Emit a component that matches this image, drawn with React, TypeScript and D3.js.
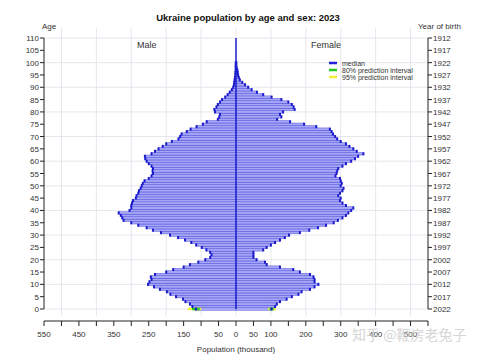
import React from "react";
import * as d3 from "d3";

const ages = d3.range(0, 101);
const male = [
  115, 125, 132, 145, 152, 172, 188, 198, 218, 235,
  252, 248, 242, 244, 232, 200, 180, 150, 132, 108,
  88, 74, 70, 74, 85, 98, 114, 128, 146, 166,
  189, 215, 238, 256, 280, 300, 322, 326, 330, 336,
  305, 300, 300, 298, 295, 287, 285, 280, 278, 273,
  270, 267, 262, 250, 242, 238, 239, 238, 242, 250,
  256, 260, 261, 242, 232, 222, 210, 200, 184, 165,
  160, 156, 141, 130, 113, 95, 84, 52, 48, 46,
  60, 62, 56, 52, 46, 40, 31, 24, 18, 12,
  8, 6, 5, 4, 3, 2, 2, 1, 1, 1, 0.5,
];
const female = [
  102, 112, 117, 126, 145, 160, 179, 188, 212, 225,
  236, 225, 225, 222, 212, 183, 164, 126, 88, 83,
  59, 50, 50, 50, 78, 88, 100, 112, 126, 140,
  152, 183, 210, 235, 258, 280, 292, 305, 315, 322,
  330, 336, 315, 305, 298, 300, 293, 298, 305, 308,
  300, 303, 300, 298, 285, 288, 290, 293, 305, 315,
  330, 341, 350, 365, 346, 336, 325, 315, 300, 290,
  284, 278, 274, 269, 230, 195, 155, 118, 130, 126,
  135, 168, 165, 160, 150, 130, 102, 78, 60, 45,
  35, 26, 18, 11, 8, 6, 5, 4, 2, 1, 1,
];
// prediction intervals at age 0 (male, female): [lo95, lo80, hi80, hi95]
const maleInterval0 = [100, 104, 126, 138];
const femaleInterval0 = [92, 96, 108, 114];

const leftXLabels = [550, 450, 350, 250, 150, 50, 0];
const rightXLabels = [50, 100, 200, 300, 400, 500];
const ageTicks = d3.range(0, 111, 5);
const legendItems = [
  { label: "median", color: "#2222dd" },
  { label: "80% prediction interval", color: "#22cc22" },
  { label: "95% prediction interval", color: "#f2ef3a" },
];

const title = "Ukraine population by age and sex: 2023";

export default function App() {
  const W = 479, H = 357;
  const x = d3.scaleLinear().domain([-550, 550]).range([44, 428]);
  const y = d3.scaleLinear().domain([0, 110]).range([309, 38]);
  const bh = Math.abs(y(1) - y(0));
  const font = "'Liberation Sans', Arial, sans-serif";
  const gridX = d3.range(-500, 501, 100);
  const gridY = d3.range(0, 111, 10);
  const xTicks = d3.range(-550, 551, 50);

  return (
    <svg width={W} height={H} style={{ position: "absolute", left: 0, top: 0, background: "#fff" }} fontFamily={font}>
      <rect x={0} y={0} width={W} height={H} fill="#fff" />
      {/* grid */}
      {gridX.map((g) => (
        <line key={"gx" + g} x1={x(g)} x2={x(g)} y1={28} y2={316} stroke="#e6e6ee" strokeWidth={1} />
      ))}
      {gridY.map((g) => (
        <line key={"gy" + g} x1={44} x2={428} y1={y(g)} y2={y(g)} stroke="#e6e6ee" strokeWidth={1} />
      ))}
      {/* bars */}
      {ages.map((a, i) => (
        <g key={"b" + a}>
          <rect x={x(-male[i])} y={y(a) - bh / 2} width={x(0) - x(-male[i])} height={bh}
            fill="#a6a6f6" stroke="#3c3cd8" strokeWidth={0.4} />
          <rect x={x(0)} y={y(a) - bh / 2} width={x(female[i]) - x(0)} height={bh}
            fill="#a6a6f6" stroke="#3c3cd8" strokeWidth={0.4} />
        </g>
      ))}
      {/* prediction intervals age 0 */}
      <line x1={x(-maleInterval0[3])} x2={x(-maleInterval0[0])} y1={y(0)} y2={y(0)} stroke="#f2ef3a" strokeWidth={2.5} />
      <line x1={x(-maleInterval0[2])} x2={x(-maleInterval0[1])} y1={y(0)} y2={y(0)} stroke="#22cc22" strokeWidth={2.5} />
      <line x1={x(femaleInterval0[0])} x2={x(femaleInterval0[3])} y1={y(0)} y2={y(0)} stroke="#f2ef3a" strokeWidth={2.5} />
      <line x1={x(femaleInterval0[1])} x2={x(femaleInterval0[2])} y1={y(0)} y2={y(0)} stroke="#22cc22" strokeWidth={2.5} />
      {/* median markers */}
      {ages.map((a, i) => (
        <g key={"m" + a}>
          <line x1={x(-male[i])} x2={x(-male[i])} y1={y(a) - 1.5} y2={y(a) + 1.5} stroke="#1a1acc" strokeWidth={2} />
          <line x1={x(female[i])} x2={x(female[i])} y1={y(a) - 1.5} y2={y(a) + 1.5} stroke="#1a1acc" strokeWidth={2} />
        </g>
      ))}
      <line x1={x(0)} x2={x(0)} y1={y(110)} y2={y(0)} stroke="#2222cc" strokeWidth={1.5} />
      {/* left axis */}
      <line x1={44} x2={44} y1={y(110)} y2={y(0)} stroke="#222" strokeWidth={1} />
      {ageTicks.map((t) => (
        <g key={"ya" + t}>
          <line x1={40} x2={44} y1={y(t)} y2={y(t)} stroke="#222" />
          <text x={39} y={y(t) + 3} fontSize={8} textAnchor="end" fill="#333">{t}</text>
        </g>
      ))}
      {/* right axis */}
      <line x1={428} x2={428} y1={y(110)} y2={y(0)} stroke="#222" strokeWidth={1} />
      {ageTicks.map((t) => (
        <g key={"yr" + t}>
          <line x1={428} x2={432} y1={y(t)} y2={y(t)} stroke="#222" />
          <text x={433} y={y(t) + 3} fontSize={8} textAnchor="start" fill="#333">{2022 - t}</text>
        </g>
      ))}
      {/* x axis */}
      <line x1={x(-550)} x2={x(550)} y1={321} y2={321} stroke="#222" />
      {xTicks.map((t) => (
        <line key={"xt" + t} x1={x(t)} x2={x(t)} y1={321} y2={326} stroke="#222" />
      ))}
      {leftXLabels.map((t) => (
        <text key={"xl" + t} x={x(-t)} y={337} fontSize={8} textAnchor="middle" fill="#333">{t}</text>
      ))}
      {rightXLabels.map((t) => (
        <text key={"xr" + t} x={x(t)} y={337} fontSize={8} textAnchor="middle" fill="#333">{t}</text>
      ))}
      <text x={236} y={352} fontSize={8} textAnchor="middle" fill="#333">Population (thousand)</text>
      {/* titles */}
      <text x={248} y={21} fontSize={9.5} fontWeight="bold" textAnchor="middle" fill="#111">{title}</text>
      <text x={42} y={29} fontSize={8} fill="#333">Age</text>
      <text x={418} y={29} fontSize={8} fill="#333">Year of birth</text>
      <text x={137} y={48} fontSize={9} fill="#333">Male</text>
      <text x={311} y={48} fontSize={9} fill="#333">Female</text>
      {/* legend */}
      {legendItems.map((l, i) => (
        <g key={"lg" + i}>
          <line x1={329} x2={337} y1={63 + i * 7} y2={63 + i * 7} stroke={l.color} strokeWidth={2.5} />
          <text x={342} y={65.5 + i * 7} fontSize={7} fill="#333">{l.label}</text>
        </g>
      ))}
      {/* watermark */}
      <text x={352} y={340} fontSize={14} fill="#cccccc" opacity={0.8}
        fontFamily="'Noto Sans CJK SC', sans-serif">知乎 @鞭房老兔子</text>
    </svg>
  );
}
